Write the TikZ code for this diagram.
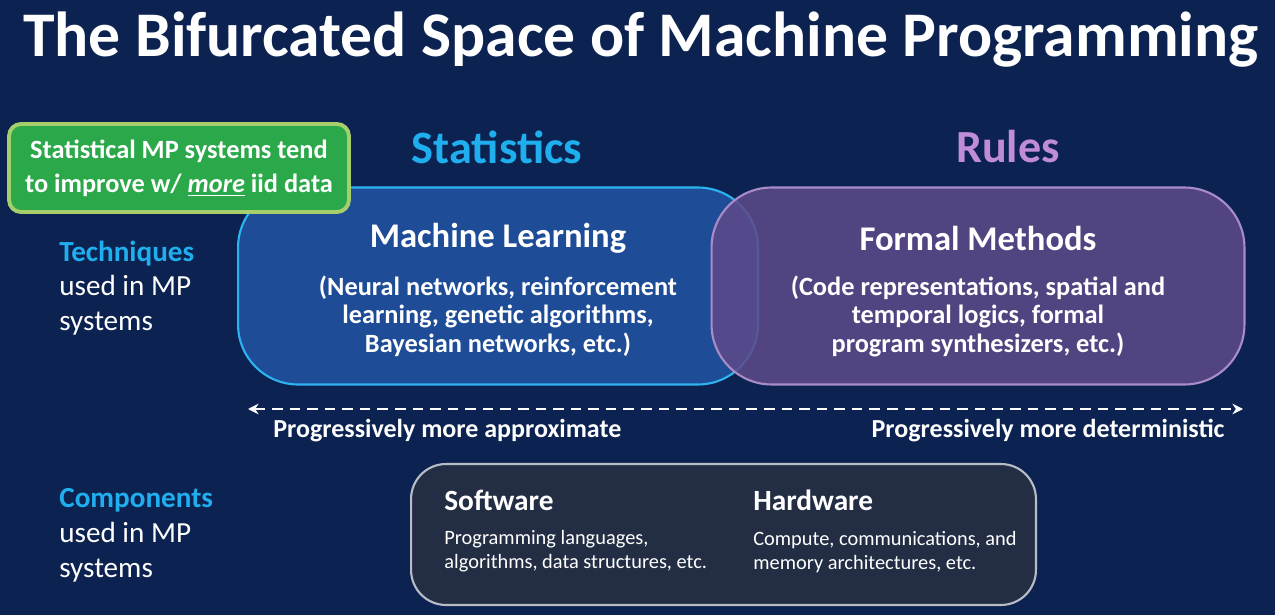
\documentclass[tikz,border=0pt]{standalone}
\usepackage{fontspec}
\setmainfont{Carlito}
\usepackage{tikz}
\usetikzlibrary{arrows.meta}

\definecolor{slidebg}{HTML}{0C2251}
\definecolor{statcyan}{HTML}{1FAFEF}
\definecolor{rulepurple}{HTML}{C08CD8}
\definecolor{mlfill}{HTML}{1E4C97}
\definecolor{mlline}{HTML}{2DB4F0}
\definecolor{fmfill}{HTML}{5E4A8A}
\definecolor{fmline}{HTML}{A98BC8}
\definecolor{notefill}{HTML}{2BA84A}
\definecolor{noteline}{HTML}{A6CF6B}
\definecolor{compfill}{HTML}{232E44}
\definecolor{compline}{HTML}{B8BCC6}

\newcommand{\fs}[2]{\fontsize{#1}{#2}\selectfont}

\begin{document}
\begin{tikzpicture}[x=0.02cm,y=-0.02cm,
    every node/.style={text=white, inner sep=0pt},
    blob/.style={rounded corners=1.2cm, line width=1.2pt,
        minimum width=10.4cm, minimum height=3.94cm},
    head/.style={font=\bfseries\fs{19.7}{24}},
    sub/.style={font=\bfseries\fs{15}{16.2}, align=center},
    side/.style={font=\fs{16.6}{19.8}, align=left, anchor=west},
    span/.style={font=\bfseries\fs{14.8}{18}},
    part/.style={font=\bfseries\fs{16.7}{20}, anchor=west},
    detail/.style={font=\fs{11.6}{13.6}, align=left, anchor=north west}]
	\fill[slidebg] (0,0) rectangle (1275,615);
	\node at (641,40) (title) {\bfseries\fs{36.2}{40}The Bifurcated Space of Machine Programming};
	% two kinds of techniques
	\node at (497,147) (stat) {\textcolor{statcyan}{\bfseries\fs{26.4}{30}Statistics}};
	\node at (1008,147) (rules) {\textcolor{rulepurple}{\bfseries\fs{26.2}{30}Rules}};
	\node[blob, draw=mlline, fill=mlfill] at (498,286) (ml) {};
	\node[blob, draw=fmline, fill=fmfill, fill opacity=0.86, minimum width=10.66cm] at (978,286) (fm) {};
	\node[head] at (498,238) (mlhead) {Machine Learning};
	\node[sub] at (498,316) (mltext) {(Neural networks, reinforcement\\learning, genetic algorithms,\\Bayesian networks, etc.)};
	\node[head] at (978,238) (fmhead) {Formal Methods};
	\node[sub] at (978,316) (fmtext) {(Code representations, spatial and\\temporal logics, formal\\program synthesizers, etc.)};
	\node[draw=noteline, fill=notefill, line width=2.2pt, rounded corners=0.24cm,
	      minimum width=6.8cm, minimum height=1.76cm, align=center,
	      font=\bfseries\fs{15}{19.5}] at (179,168) (note)
	      {Statistical MP systems tend\\to improve w/ \underline{\itshape more} iid data};
	\node[side] at (59,288) (tech) {\textcolor{statcyan}{\bfseries Techniques}\\used in MP\\systems};
	% spectrum between the two
	\coordinate (lend) at (248,409);
	\coordinate (rend) at (1243,409);
	\draw[white, line width=1.1pt, dash pattern=on 6pt off 4pt,
	      {Stealth[length=6pt,width=6pt]}-{Stealth[length=6pt,width=6pt]}] (lend) -- (rend);
	\node[span, anchor=west] at (273,431) (approx) {Progressively more approximate};
	\node[span, anchor=east] at (1225,431) (determ) {Progressively more deterministic};
	% components
	\node[side] at (59,535) (comp) {\textcolor{statcyan}{\bfseries Components}\\used in MP\\systems};
	\node[draw=compline, fill=compfill, line width=1.2pt, rounded corners=0.7cm,
	      minimum width=12.5cm, minimum height=2.82cm] at (723.5,534.5) (parts) {};
	\node[part] at (444,500) (sw) {Software};
	\node[detail] at (444,530) (swtext) {Programming languages,\\algorithms, data structures, etc.};
	\node[part] at (753,500) (hw) {Hardware};
	\node[detail] at (753,531) (hwtext) {Compute, communications, and\\memory architectures, etc.};
\end{tikzpicture}
\end{document}
